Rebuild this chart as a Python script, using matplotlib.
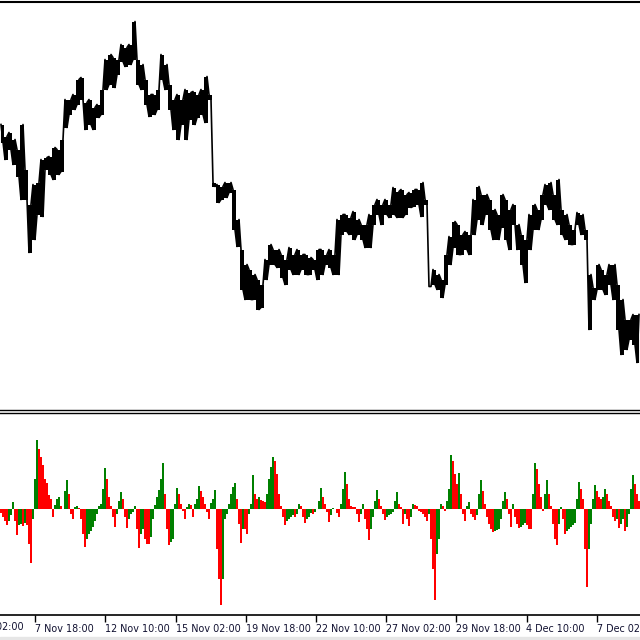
import numpy as np
import matplotlib
matplotlib.use("Agg")
import matplotlib.pyplot as plt

# ---- price panel: high / low levels sampled along the chart (4 px steps) ----
price_high = [285, 273, 277, 270, 260, 285, 240, 205, 225, 227, 250, 252, 253, 262, 260, 270,
              310, 310, 315, 330, 332, 307, 310, 302, 305, 320, 350, 355, 352, 350, 365, 362,
              365, 388, 350, 345, 330, 315, 315, 320, 355, 345, 325, 310, 315, 310, 320, 317,
              318, 315, 320, 333, 315, 223, 225, 223, 227, 227, 220, 190, 160, 145, 140, 135,
              130, 125, 150, 165, 160, 160, 155, 150, 162, 155, 160, 155, 155, 152, 150, 160,
              160, 155, 160, 155, 190, 195, 195, 192, 198, 190, 185, 185, 195, 205, 210, 205,
              210, 205, 222, 218, 220, 215, 217, 220, 220, 227, 210, 123, 140, 135, 130, 155,
              173, 188, 185, 175, 178, 175, 210, 223, 215, 215, 210, 200, 195, 215, 210, 200,
              205, 185, 175, 170, 195, 205, 200, 215, 225, 227, 215, 230, 200, 195, 185, 180,
              197, 195, 180, 135, 122, 145, 140, 135, 145, 145, 125, 110, 90, 90, 95, 95]
price_low = [267, 250, 260, 245, 233, 210, 210, 157, 170, 195, 193, 240, 235, 230, 235, 238,
             282, 295, 300, 305, 310, 280, 285, 280, 292, 295, 320, 325, 322, 335, 348, 343,
             345, 350, 325, 320, 305, 293, 295, 300, 330, 320, 300, 280, 270, 285, 270, 290,
             285, 292, 295, 287, 310, 227, 207, 210, 212, 217, 180, 163, 120, 110, 110, 110,
             100, 102, 130, 145, 145, 142, 132, 125, 140, 135, 135, 140, 135, 135, 140, 130,
             135, 145, 142, 135, 135, 175, 178, 175, 170, 175, 170, 162, 162, 185, 195, 185,
             195, 192, 195, 192, 192, 195, 202, 203, 205, 193, 205, 123, 125, 120, 112, 125,
             145, 162, 155, 155, 160, 155, 175, 190, 185, 195, 180, 170, 170, 182, 170, 160,
             185, 160, 145, 127, 160, 180, 180, 190, 205, 200, 190, 185, 175, 170, 165, 165,
             185, 175, 170, 80, 110, 120, 120, 115, 125, 110, 80, 55, 60, 70, 65, 47]

# ---- oscillator histogram values (2 px steps) ----
hist_vals = [-4, -8, -12, -16, -12, -6, 7, -12, -26, -16, -15, -17, -14, -16, -35, -54,
             -10, 30, 69, 60, 52, 44, 30, 26, 14, 10, -8, 4, 10, 12, 3, 0,
             18, 29, 15, -5, -10, 2, 3, 1, -10, -25, -38, -30, -25, -22, -18, -12,
             -5, 3, 5, 20, 41, 30, 12, 3, -8, -18, -5, 8, 17, 10, -8, -19,
             -10, -5, -3, 3, -20, -39, -25, -20, -30, -35, -35, -28, -10, 4, 12, 19,
             30, 46, 15, -20, -36, -33, -30, 5, 21, 15, 5, -2, -10, 2, 5, 4,
             -8, 5, 10, 23, 18, 12, 5, -3, -10, 6, 10, 19, -40, -70, -96, -70,
             -10, -5, 5, 15, 22, 26, 10, -15, -34, -20, -20, -25, -5, 5, 34, 15,
             10, 12, 9, 8, 7, 15, 30, 42, 52, 48, 35, 15, 3, -8, -16, -12,
             -10, -8, -6, -8, -5, 5, 3, -8, -14, -10, -8, -4, -5, -3, 0, 8,
             21, 12, 5, -3, -13, -6, 1, 0, -4, -8, 5, 20, 37, 25, 10, 3,
             2, 2, -5, -13, -5, 5, -10, -20, -31, -20, -8, 8, 19, 10, 3, -5,
             -11, -8, -6, -5, -3, 8, 17, 5, 2, -15, -5, -10, -17, -8, 5, 4,
             3, -2, -3, -5, -8, -12, -5, -30, -60, -91, -45, -30, 5, 3, -2, 8,
             20, 54, 48, 35, 25, 36, 15, -5, -12, 3, 7, -5, -8, -11, -6, 15,
             29, 18, 5, -8, -15, -20, -23, -22, -21, -20, -10, 8, 17, 10, -5, -18,
             5, -8, -15, -19, -18, -16, -14, -16, -20, -20, 15, 46, 40, 25, 12, -2,
             15, 29, 15, 3, -15, -30, -36, -15, 2, -10, -25, -22, -20, -18, -16, -14,
             10, 27, 20, 10, -40, -78, -40, -15, 10, 24, 18, 12, 10, 12, 20, 15,
             8, 3, -8, -12, -10, -19, -15, -10, -22, -18, -5, 20, 34, 25, 15, 8]

tick_labels = ["5 Nov 02:00", "7 Nov 18:00", "12 Nov 10:00", "15 Nov 02:00", "19 Nov 18:00",
               "22 Nov 10:00", "27 Nov 02:00", "29 Nov 18:00", "4 Dec 10:00", "7 Dec 02:00"]

W = 640
price_x = np.arange(len(price_high)) * 4 + 2
hist_x = np.arange(len(hist_vals)) * 2 + 1
tick_x = 35.1 + 70.2 * (np.arange(len(tick_labels)) - 1)

fig = plt.figure(figsize=(6.4, 6.4), dpi=100)
fig.patch.set_facecolor("white")

def fy(px):
    return 1 - px / 640.0

# top price panel: y from 2 to 409.5 px
ax1 = fig.add_axes([0, fy(409.5), 1, fy(2) - fy(409.5)])
hi = np.array(price_high, dtype=float)
lo = np.array(price_low, dtype=float)
ax1.fill_between(price_x, lo, hi, step="mid", color="black", linewidth=0)
zz_x = np.ravel(np.column_stack([price_x - 1, price_x + 1]))
order = np.arange(len(hi)) % 2 == 0
zz_y = np.ravel(np.column_stack([np.where(order, hi, lo), np.where(order, lo, hi)]))
ax1.plot(zz_x, zz_y, color="black", linewidth=1.2)
ax1.vlines(price_x, lo, hi, color="black", linewidth=1.5)
ax1.set_xlim(0, W)
ax1.set_ylim(0, 407.5)
for s in ["left", "right"]:
    ax1.spines[s].set_visible(False)
ax1.spines["top"].set_linewidth(1.5)
ax1.spines["bottom"].set_linewidth(1.0)
ax1.set_xticks([])
ax1.set_yticks([])

# bottom histogram panel: y from 412.5 to 615 px, zero line at 509
ax2 = fig.add_axes([0, fy(615), 1, fy(412.5) - fy(615)])
vals = np.array(hist_vals, dtype=float)
prev = np.concatenate([[vals[0]], vals[:-1]])
colors = np.where(vals > prev, "#008000", "#ff0000")
ax2.bar(hist_x, vals, width=2.0, color=colors, linewidth=0, antialiased=False)
for s in ["left", "right"]:
    ax2.spines[s].set_visible(False)
ax2.spines["top"].set_linewidth(1.0)
ax2.spines["bottom"].set_linewidth(1.2)
ax2.set_yticks([])
fs = 6.9
lab_color = "#101030"
ax2.set_xticks(tick_x[1:])
ax2.set_xticklabels(tick_labels[1:], ha="left", fontsize=fs, color=lab_color,
                    fontfamily="DejaVu Sans")
ax2.tick_params(axis="x", direction="out", length=5, width=1, color="black", pad=1.5)
# first label lies partly left of the visible area
ax2.annotate(tick_labels[0], xy=(tick_x[0], 0), xycoords=("data", "axes fraction"),
             xytext=(0, -(5 * 0.72 + 1.5)), textcoords="offset points",
             ha="left", va="top", fontsize=fs, color=lab_color,
             fontfamily="DejaVu Sans", annotation_clip=False)
ax2.set_xlim(0, W)
ax2.set_ylim(-(615 - 509), 509 - 412.5)

# light grey strip at very bottom
fig.patches.append(plt.Rectangle((0, 0), 1, 3 / 640, transform=fig.transFigure,
                                 color="#e6e6e6", zorder=0))

fig.savefig("out.png", dpi=100)
